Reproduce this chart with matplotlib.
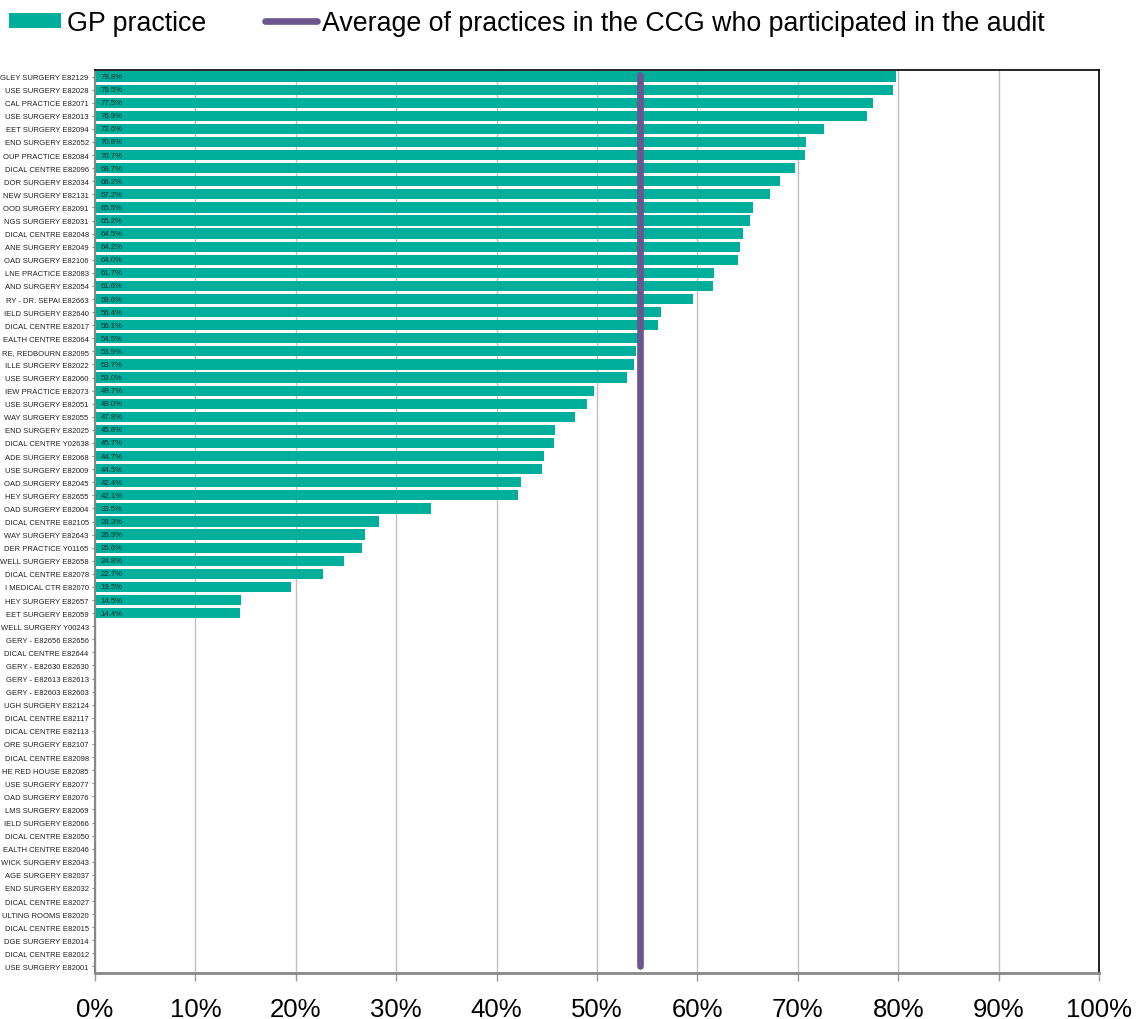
import matplotlib
matplotlib.use("Agg")
import matplotlib.pyplot as plt
from matplotlib.patches import Patch
from matplotlib.lines import Line2D
import numpy as np

plt.rcParams['font.family'] = ['Liberation Sans', 'DejaVu Sans']

practices = [
    "GLEY SURGERY E82129", "USE SURGERY E82028", "CAL PRACTICE E82071", "USE SURGERY E82013",
    "EET SURGERY E82094", "END SURGERY E82652", "OUP PRACTICE E82084", "DICAL CENTRE E82096",
    "DOR SURGERY E82034", "NEW SURGERY E82131", "OOD SURGERY E82091", "NGS SURGERY E82031",
    "DICAL CENTRE E82048", "ANE SURGERY E82049", "OAD SURGERY E82106", "LNE PRACTICE E82083",
    "AND SURGERY E82054", "RY - DR. SEPAI E82663", "IELD SURGERY E82640", "DICAL CENTRE E82017",
    "EALTH CENTRE E82064", "RE, REDBOURN E82095", "ILLE SURGERY E82022", "USE SURGERY E82060",
    "IEW PRACTICE E82073", "USE SURGERY E82051", "WAY SURGERY E82055", "END SURGERY E82025",
    "DICAL CENTRE Y02638", "ADE SURGERY E82068", "USE SURGERY E82009", "OAD SURGERY E82045",
    "HEY SURGERY E82655", "OAD SURGERY E82004", "DICAL CENTRE E82105", "WAY SURGERY E82643",
    "DER PRACTICE Y01165", "WELL SURGERY E82658", "DICAL CENTRE E82078", "I MEDICAL CTR E82070",
    "HEY SURGERY E82657", "EET SURGERY E82059", "WELL SURGERY Y00243", "GERY - E82656 E82656",
    "DICAL CENTRE E82644", "GERY - E82630 E82630", "GERY - E82613 E82613", "GERY - E82603 E82603",
    "UGH SURGERY E82124", "DICAL CENTRE E82117", "DICAL CENTRE E82113", "ORE SURGERY E82107",
    "DICAL CENTRE E82098", "HE RED HOUSE E82085", "USE SURGERY E82077", "OAD SURGERY E82076",
    "LMS SURGERY E82069", "IELD SURGERY E82066", "DICAL CENTRE E82050", "EALTH CENTRE E82046",
    "WICK SURGERY E82043", "AGE SURGERY E82037", "END SURGERY E82032", "DICAL CENTRE E82027",
    "ULTING ROOMS E82020", "DICAL CENTRE E82015", "DGE SURGERY E82014", "DICAL CENTRE E82012",
    "USE SURGERY E82001",
]

values = [
    79.8, 79.5, 77.5, 76.9, 72.6, 70.8, 70.7, 69.7, 68.2, 67.2, 65.5, 65.2, 64.5, 64.2, 64.0,
    61.7, 61.6, 59.6, 56.4, 56.1, 54.5, 53.9, 53.7, 53.0, 49.7, 49.0, 47.8, 45.8, 45.7, 44.7,
    44.5, 42.4, 42.1, 33.5, 28.3, 26.9, 26.6, 24.8, 22.7, 19.5, 14.5, 14.4,
] + [None] * 27

ccg_average = 54.3
xticks = list(range(0, 101, 10))
xticklabels = [f"{t}%" for t in xticks]

bar_color = "#00AE9C"
avg_color = "#6B5690"

fig = plt.figure(figsize=(11.36, 10.2), dpi=100)
ax = fig.add_axes([95/1136, 1-974/1020, (1099-95)/1136, (974-71)/1020])

y = np.arange(len(practices))
vals = [v if v is not None else 0 for v in values]
ax.barh(y, vals, height=0.78, color=bar_color, zorder=2)
for yi, v in zip(y, values):
    if v is not None:
        ax.text(1.65, yi, f"{v:.1f}%", ha='center', va='center', fontsize=5.6, color='#0d2e2e', zorder=3)

ax.plot([ccg_average, ccg_average], [-0.15, len(practices) - 1], color=avg_color, lw=4.8,
        solid_capstyle='round', zorder=4)

ax.set_xlim(0, 100)
ax.set_ylim(len(practices) - 0.5, -0.5)
ax.set_xticks(xticks)
ax.set_xticklabels(xticklabels, fontsize=18.5)
ax.set_yticks(y)
ax.set_yticklabels(practices, fontsize=5.5, color='#222222')
ax.tick_params(axis='y', length=2, width=0.8, color='#888888', pad=2.5)
ax.tick_params(axis='x', length=6, width=1, color='#999999', pad=11)
ax.xaxis.grid(True, color='#c0c0c0', lw=1, zorder=0)
ax.set_axisbelow(True)

for s in ['top', 'right']:
    ax.spines[s].set_color('black')
    ax.spines[s].set_linewidth(1.2)
ax.spines['left'].set_color('#888888')
ax.spines['left'].set_linewidth(1.5)
ax.spines['bottom'].set_color('#888888')
ax.spines['bottom'].set_linewidth(2)

handles = [Patch(facecolor=bar_color, edgecolor='none'),
           Line2D([0], [0], color=avg_color, lw=4.8, solid_capstyle='round')]
fig.legend(handles, ["GP practice", "Average of practices in the CCG who participated in the audit"],
           loc='upper left', bbox_to_anchor=(9/1136, 1-11/1020), borderaxespad=0, borderpad=0,
           ncol=2, frameon=False, fontsize=19.3,
           handlelength=1.95, handletextpad=0.2, columnspacing=2.2, handleheight=0.52)

fig.savefig("out.png", dpi=100)
